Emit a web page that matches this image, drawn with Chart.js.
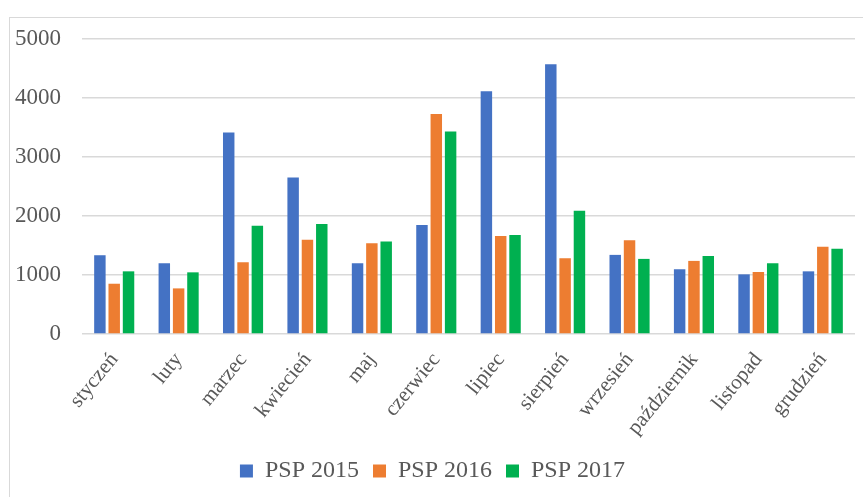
<!DOCTYPE html>
<html>
<head>
<meta charset="utf-8">
<script src="https://cdn.jsdelivr.net/npm/chart.js@4"></script>
<style>
  html, body { margin: 0; padding: 0; background: #fff; overflow: hidden; }
  #wrap { position: relative; width: 863px; height: 497px; }
  #frame {
    position: absolute; left: 9px; top: 17px; width: 900px; height: 600px;
    border: 1.5px solid #d9d9d9; pointer-events: none;
  }
  #warm { position: absolute; left: -999px; top: 0; font-family: "Liberation Serif"; font-size: 23px; }
</style>
</head>
<body>
<div id="wrap">
  <canvas id="c" width="863" height="497"></canvas>
  <div id="frame"></div>
</div>
<span id="warm">styczeń PSP 2015</span>
<script>
// data
const months = ["styczeń", "luty", "marzec", "kwiecień", "maj", "czerwiec",
  "lipiec", "sierpień", "wrzesień", "październik", "listopad", "grudzień"];
const psp2015 = [1335, 1199, 3415, 2653, 1199, 1847, 4114, 4574, 1341, 1097, 1011, 1062];
const psp2016 = [852, 773, 1216, 1597, 1540, 3727, 1659, 1284, 1591, 1239, 1051, 1477];
const psp2017 = [1062, 1045, 1835, 1864, 1568, 3432, 1676, 2091, 1273, 1324, 1199, 1443];
const yTicks = [0, 1000, 2000, 3000, 4000, 5000];

const TEXT = "#595959";
const GRID = "#d9d9d9";
const FONT = "Liberation Serif";

Chart.defaults.font.family = FONT;

const mkSet = (label, data, color) => ({
  label, data,
  backgroundColor: color,
  borderWidth: 0,
  categoryPercentage: 0.667,
  barPercentage: 0.8
});

function draw() {
  new Chart(document.getElementById("c"), {
    type: "bar",
    data: {
      labels: months,
      datasets: [
        mkSet("PSP 2015", psp2015, "#4472C4"),
        mkSet("PSP 2016", psp2016, "#ED7D31"),
        mkSet("PSP 2017", psp2017, "#00B050")
      ]
    },
    options: {
      responsive: false,
      animation: false,
      layout: { padding: { left: 10, right: 8, top: 39, bottom: 4 } },
      plugins: {
        tooltip: { enabled: false },
        legend: {
          position: "bottom",
          labels: {
            color: TEXT,
            font: { family: FONT, size: 24 },
            boxWidth: 13,
            boxHeight: 13,
            padding: 14
          }
        }
      },
      scales: {
        x: {
          grid: { display: false, drawTicks: false },
          border: { display: false },
          ticks: {
            color: TEXT,
            font: { family: FONT, size: 21 },
            minRotation: 51,
            maxRotation: 51,
            padding: 14
          },
          afterFit(scale) { scale.height = 111; }
        },
        y: {
          min: 0,
          max: 5000,
          afterBuildTicks(scale) { scale.ticks = yTicks.map(v => ({ value: v })); },
          grid: { color: GRID, lineWidth: 1.5, drawTicks: false },
          border: { display: false },
          ticks: {
            color: TEXT,
            font: { family: FONT, size: 23 },
            padding: 21,
            callback: v => String(v)
          },
          afterFit(scale) { scale.width = 72; }
        }
      }
    }
  });
}

if (document.fonts && document.fonts.load) {
  document.fonts.load("23px 'Liberation Serif'").then(draw, draw);
} else {
  draw();
}
</script>
</body>
</html>
